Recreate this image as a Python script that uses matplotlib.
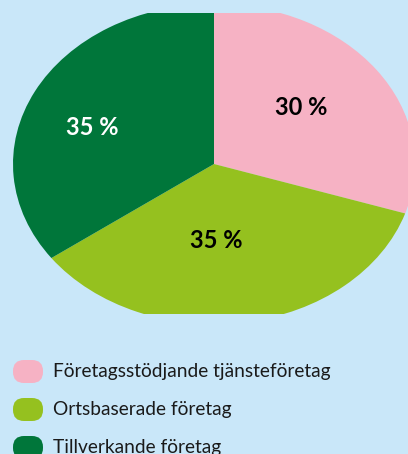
import matplotlib.pyplot as plt
from matplotlib.patches import FancyBboxPatch

shares = [30, 35, 35]
share_labels = ['30 %', '35 %', '35 %']
categories = ['Företagsstödjande tjänsteföretag', 'Ortsbaserade företag', 'Tillverkande företag']
colors = ['#f6b2c4', '#95c11f', '#00763a']
label_colors = ['black', 'black', 'white']
# label spots in pie units (x, y)
label_pos = [(0.433, 0.356), (0.01, -0.475), (-0.607, 0.231)]

bg = '#c9e7f9'

fig = plt.figure(figsize=(4.08, 4.54), dpi=100)
fig.patch.set_facecolor(bg)

# pie axes: ellipse clipped at top and bottom like the original
ax = fig.add_axes([0, (454 - 314) / 454, 1, 301 / 454])
wedges, _ = ax.pie(shares, colors=colors, startangle=90, counterclock=False,
                   wedgeprops=dict(linewidth=0))
for w in wedges:
    w.set_clip_on(True)
    w.set_clip_box(ax.bbox)
ax.set_aspect('auto')
ax.set_xlim(-214 / 201, 194 / 201)
ax.set_ylim(-150 / 160, 151 / 160)
ax.axis('off')

for txt, (x, y), c in zip(share_labels, label_pos, label_colors):
    ax.text(x, y, txt, ha='center', va='center', color=c,
            fontsize=17, fontweight='bold', family='Lato')

# legend drawn by hand in pixel coordinates
lax = fig.add_axes([0, 0, 1, 1])
lax.set_xlim(0, 408)
lax.set_ylim(454, 0)
lax.axis('off')
for i, (name, c) in enumerate(zip(categories, colors)):
    yc = 371.5 + i * 38
    lax.add_patch(FancyBboxPatch((13, yc - 11.5), 30, 23,
                                 boxstyle='round,pad=0,rounding_size=11',
                                 facecolor=c, edgecolor='none'))
    lax.text(53, yc, name, ha='left', va='center', fontsize=13.8,
             color='#1a1a1a', family='Lato')

fig.savefig('out.png', dpi=100, facecolor=bg)
